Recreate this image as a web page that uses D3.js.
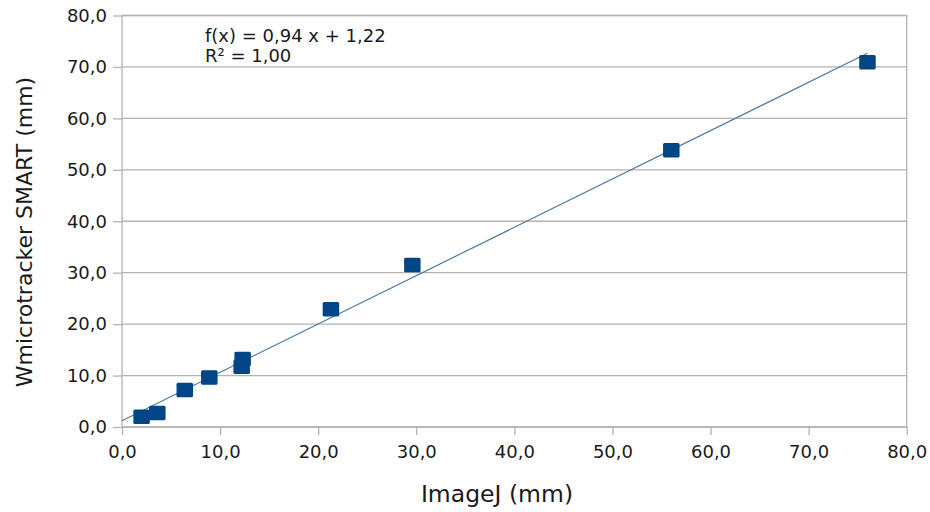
<!DOCTYPE html>
<html>
<head>
<meta charset="utf-8">
<script src="https://cdn.jsdelivr.net/npm/d3@7"></script>
<style>
  body { margin: 0; background: #fff; }
  text { font-family: "DejaVu Sans", sans-serif; fill: #1a1a1a; }
</style>
</head>
<body>
<svg width="930" height="512"></svg>
<script>
// data
const imageJ = [2.0, 3.6, 6.4, 8.9, 12.2, 12.3, 21.3, 29.6, 56.0, 76.0];
const wmicro = [2.0, 2.7, 7.2, 9.6, 11.7, 13.2, 22.9, 31.5, 53.8, 70.9];
const xTicks = [0, 10, 20, 30, 40, 50, 60, 70, 80];
const yTicks = [0, 10, 20, 30, 40, 50, 60, 70, 80];
const slope = 0.94, intercept = 1.22;
const eqLines = ["f(x) = 0,94 x + 1,22", "R² = 1,00"];

const svg = d3.select("svg");
const plotL = 122, plotR = 906.7, plotT = 15.5, plotB = 427;

const x = d3.scaleLinear().domain([0, 80]).range([plotL, plotR]);
const y = d3.scaleLinear().domain([0, 80]).range([plotB, plotT]);

const locale = d3.formatLocale({decimal: ",", thousands: ".", grouping: [3], currency: ["", ""]});
const fmt = locale.format(".1f");

const grid = "#b3b3b3";

// horizontal grid
svg.append("g").selectAll("line").data(yTicks).join("line")
  .attr("x1", plotL).attr("x2", plotR)
  .attr("y1", d => y(d)).attr("y2", d => y(d))
  .attr("stroke", grid).attr("stroke-width", 1.3);

// frame
svg.append("rect").attr("x", plotL).attr("y", plotT)
  .attr("width", plotR - plotL).attr("height", plotB - plotT)
  .attr("fill", "none").attr("stroke", grid).attr("stroke-width", 1.3);

// axes
const xAxis = svg.append("g").attr("transform", `translate(0,${plotB})`)
  .call(d3.axisBottom(x).tickValues(xTicks).tickFormat(fmt).tickSize(8).tickPadding(10));
const yAxis = svg.append("g").attr("transform", `translate(${plotL},0)`)
  .call(d3.axisLeft(y).tickValues(yTicks).tickFormat(fmt).tickSize(9).tickPadding(6));

[xAxis, yAxis].forEach(a => {
  a.select(".domain").remove();
  a.selectAll(".tick line").attr("stroke", grid).attr("stroke-width", 1.3);
  a.selectAll(".tick text").attr("font-size", 18).attr("fill", "#1a1a1a")
    .attr("font-family", "DejaVu Sans, sans-serif");
});

// trend line
svg.append("line")
  .attr("x1", x(0)).attr("y1", y(intercept))
  .attr("x2", x(d3.max(imageJ))).attr("y2", y(slope * d3.max(imageJ) + intercept))
  .attr("stroke", "#4f7aa6").attr("stroke-width", 1.2);

// markers
const pts = imageJ.map((v, i) => [v, wmicro[i]]);
const mw = 16.5, mh = 14.5;
svg.append("g").selectAll("rect").data(pts).join("rect")
  .attr("x", d => x(d[0]) - mw / 2).attr("y", d => y(d[1]) - mh / 2)
  .attr("width", mw).attr("height", mh).attr("rx", 1.5)
  .attr("fill", "#004586");

// equation
svg.append("g").selectAll("text").data(eqLines).join("text")
  .attr("x", 205).attr("y", (d, i) => 41.5 + i * 20)
  .attr("font-size", 18).text(d => d);

// titles
svg.append("text").attr("x", 497).attr("y", 502)
  .attr("text-anchor", "middle").attr("font-size", 23.5).text("ImageJ (mm)");
svg.append("text").attr("transform", "translate(32,232) rotate(-90)")
  .attr("text-anchor", "middle").attr("font-size", 22).text("Wmicrotracker SMART (mm)");
</script>
</body>
</html>
